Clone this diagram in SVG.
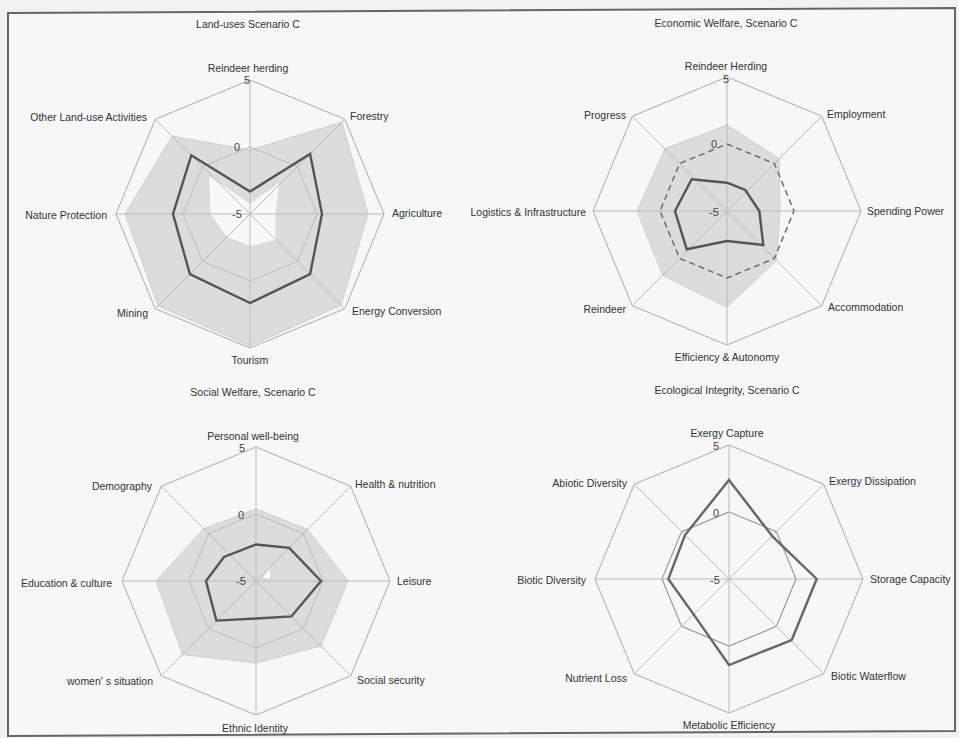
<svg xmlns="http://www.w3.org/2000/svg" width="959" height="738" viewBox="0 0 959 738">
<style>
text{font-family:"Liberation Sans",Arial,sans-serif;font-size:10.5px;fill:#333}
.m{text-anchor:middle}.e{text-anchor:end}
.num{font-size:11px;fill:#444}
.outer{fill:none;stroke:#aaa;stroke-width:1}
.half{fill:none;stroke:#bbb;stroke-width:1}
.spoke{stroke:#bbb;stroke-width:1}
.area{fill:#dcdcdc;stroke:#cfcfcf;stroke-width:1}
.hole{fill:#f8f8f8;stroke:#d8d8d8;stroke-width:1}
.dark{fill:none;stroke:#555;stroke-width:2.4;stroke-linejoin:miter}
.dash{fill:none;stroke:#666;stroke-width:1.4;stroke-dasharray:6 4}
.zero{fill:none;stroke:#999;stroke-width:1.2}
</style>
<rect width="959" height="738" fill="#f2f2f2"/>
<polygon points="8,13 955,8 955,731 8,736" fill="#f7f7f7" stroke="#666" stroke-width="2"/>

<g id="chart-land-use">
<polygon class="area" points="250,150 341.9,122.1 368,214 341.2,305.2 250,346 158.1,305.9 125,214 172.2,136.2"/>
<polygon class="hole" points="250,203 280,181.7 276,214 276.2,240.2 250,246.7 226.7,237.3 210,214 208.3,175"/>
<polygon class="outer" points="250,80 344.75,119.25 384,214 344.75,308.75 250,348 155.25,308.75 116,214 155.25,119.25"/>
<polygon class="half" points="250,147 297.4,166.6 317,214 297.4,261.4 250,281 202.6,261.4 183,214 202.6,166.6"/>
<g class="spoke"><line x1="250" y1="214" x2="250" y2="80"/><line x1="250" y1="214" x2="344.75" y2="119.25"/><line x1="250" y1="214" x2="384" y2="214"/><line x1="250" y1="214" x2="344.75" y2="308.75"/><line x1="250" y1="214" x2="250" y2="348"/><line x1="250" y1="214" x2="155.25" y2="308.75"/><line x1="250" y1="214" x2="116" y2="214"/><line x1="250" y1="214" x2="155.25" y2="119.25"/></g>
<polygon class="dark" points="250,191.5 310.1,153.9 322,214 310.1,274.1 250,303 189.9,274.1 173,214 191.3,155.3"/>
<text class="num m" x="247" y="84">5</text><text class="num m" x="237" y="151">0</text><text class="num m" x="237" y="218">-5</text>
<text class="m" x="248" y="28">Land-uses Scenario C</text>
<text class="m" x="248" y="72">Reindeer herding</text>
<text x="350" y="120">Forestry</text>
<text x="392" y="217">Agriculture</text>
<text x="352" y="315">Energy Conversion</text>
<text class="m" x="250" y="364">Tourism</text>
<text class="e" x="148" y="317">Mining</text>
<text class="e" x="107" y="219">Nature Protection</text>
<text class="e" x="147" y="121">Other Land-use Activities</text>
</g>

<g id="chart-economic">
<polygon class="area" points="727,125 779.3,158.7 780,211 776.5,260.5 727,307 662.7,275.3 637,211 664.8,148.8"/>
<polygon class="outer" points="727,77 821.75,116.25 861,211 821.75,305.75 727,345 632.25,305.75 593,211 632.25,116.25"/>
<g class="spoke"><line x1="727" y1="211" x2="727" y2="77"/><line x1="727" y1="211" x2="821.75" y2="116.25"/><line x1="727" y1="211" x2="861" y2="211"/><line x1="727" y1="211" x2="821.75" y2="305.75"/><line x1="727" y1="211" x2="727" y2="345"/><line x1="727" y1="211" x2="632.25" y2="305.75"/><line x1="727" y1="211" x2="593" y2="211"/><line x1="727" y1="211" x2="632.25" y2="116.25"/></g>
<polygon class="dash" points="727,144 774.4,163.6 794,211 774.4,258.4 727,278 679.6,258.4 660,211 679.6,163.6"/>
<polygon class="dark" points="727,182.7 745.3,190 759.3,211 763.3,245 727,241 686.7,249.3 675,211 691.7,179.3"/>
<text class="num m" x="726" y="83">5</text><text class="num m" x="714" y="148">0</text><text class="num m" x="714" y="216">-5</text>
<text class="m" x="726" y="27">Economic Welfare, Scenario C</text>
<text class="m" x="726" y="70">Reindeer Herding</text>
<text x="827" y="118">Employment</text>
<text x="867" y="215">Spending Power</text>
<text x="828" y="311">Accommodation</text>
<text class="m" x="727" y="361">Efficiency &amp; Autonomy</text>
<text class="e" x="626" y="313">Reindeer</text>
<text class="e" x="586" y="216">Logistics &amp; Infrastructure</text>
<text class="e" x="626" y="119">Progress</text>
</g>

<g id="chart-social">
<polygon class="area" points="256,509 307.6,529.4 348,581 321,646 256,663 182.5,654.5 156,581 203.7,528.7"/>
<polygon class="outer" points="256,447 350.75,486.25 390,581 350.75,675.75 256,715 161.25,675.75 122,581 161.25,486.25"/>
<polygon class="half" points="256,514 303.4,533.6 323,581 303.4,628.4 256,648 208.6,628.4 189,581 208.6,533.6"/>
<g class="spoke"><line x1="256" y1="581" x2="256" y2="447"/><line x1="256" y1="581" x2="350.75" y2="486.25"/><line x1="256" y1="581" x2="390" y2="581"/><line x1="256" y1="581" x2="350.75" y2="675.75"/><line x1="256" y1="581" x2="256" y2="715"/><line x1="256" y1="581" x2="161.25" y2="675.75"/><line x1="256" y1="581" x2="122" y2="581"/><line x1="256" y1="581" x2="161.25" y2="486.25"/></g>
<polygon points="262,578 270,567 271,580" fill="#fafafa" stroke="#ccc" stroke-width="0.8"/>
<polygon class="dark" points="256,544.5 289.2,547.8 321,581 291.4,616.4 256,618.5 216.4,620.6 206,581 224,557"/>
<text class="num m" x="242" y="452">5</text><text class="num m" x="241" y="519">0</text><text class="num m" x="241" y="585">-5</text>
<text class="m" x="253" y="396">Social Welfare, Scenario C</text>
<text class="m" x="253" y="440">Personal well-being</text>
<text x="355" y="488">Health &amp; nutrition</text>
<text x="397" y="585">Leisure</text>
<text x="357" y="684">Social security</text>
<text class="m" x="255" y="732">Ethnic Identity</text>
<text class="e" x="153" y="685">women' s situation</text>
<text class="e" x="112" y="587">Education &amp; culture</text>
<text class="e" x="152" y="490">Demography</text>
</g>

<g id="chart-ecological">
<polygon class="outer" points="729,445 823.75,484.25 863,579 823.75,673.75 729,713 634.25,673.75 595,579 634.25,484.25"/>
<polygon class="zero" points="729,512 776.4,531.6 796,579 776.4,626.4 729,646 681.6,626.4 662,579 681.6,531.6"/>
<g class="spoke"><line x1="729" y1="579" x2="729" y2="445"/><line x1="729" y1="579" x2="823.75" y2="484.25"/><line x1="729" y1="579" x2="863" y2="579"/><line x1="729" y1="579" x2="823.75" y2="673.75"/><line x1="729" y1="579" x2="729" y2="713"/><line x1="729" y1="579" x2="634.25" y2="673.75"/><line x1="729" y1="579" x2="595" y2="579"/><line x1="729" y1="579" x2="634.25" y2="484.25"/></g>
<polygon class="dark" points="729,480 772.7,536.7 816.7,579 791.7,640 729,665 693.6,614.4 668.3,579 685,535" style="stroke:#666"/>
<text class="num m" x="716" y="450">5</text><text class="num m" x="716" y="517">0</text><text class="num m" x="715" y="584">-5</text>
<text class="m" x="727" y="394">Ecological Integrity, Scenario C</text>
<text class="m" x="727" y="437">Exergy Capture</text>
<text x="829" y="485">Exergy Dissipation</text>
<text x="870" y="583">Storage Capacity</text>
<text x="831" y="680">Biotic Waterflow</text>
<text class="m" x="729" y="729">Metabolic Efficiency</text>
<text class="e" x="627" y="682">Nutrient Loss</text>
<text class="e" x="586" y="584">Biotic Diversity</text>
<text class="e" x="627" y="487">Abiotic Diversity</text>
</g>
</svg>
